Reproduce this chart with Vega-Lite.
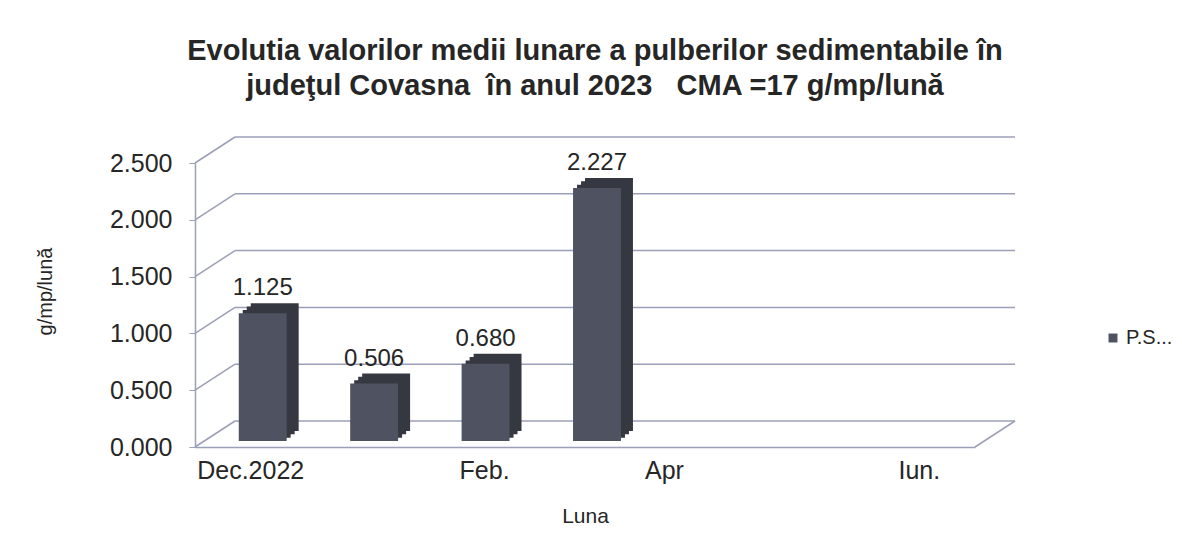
{
  "$schema": "https://vega.github.io/schema/vega-lite/v6.json",
  "width": 780,
  "height": 284,
  "autosize": {"type": "none"},
  "padding": {"left": 195, "top": 163, "right": 207, "bottom": 109},
  "background": "white",
  "config": {
    "font": "Liberation Sans",
    "view": {"stroke": null},
    "axis": {"labelColor": "#262626", "titleColor": "#262626", "labelFont": "Liberation Sans", "titleFont": "Liberation Sans"}
  },
  "title": {
    "text": ["Evolutia valorilor medii lunare a pulberilor sedimentabile în", "judeţul Covasna \u00a0în anul 2023 \u00a0 CMA =17 g/mp/lună"],
    "fontSize": 29,
    "lineHeight": 35,
    "fontWeight": "bold",
    "color": "#262626",
    "anchor": "middle",
    "dx": 10,
    "offset": 35
  },
  "datasets": {
    "ticks": [{"v": 0}, {"v": 0.5}, {"v": 1}, {"v": 1.5}, {"v": 2}, {"v": 2.5}],
    "months": [
      {"luna": "Dec.2022", "val": 1.125, "serie": "P.S..."},
      {"luna": "Ian.", "val": 0.506, "serie": "P.S..."},
      {"luna": "Feb.", "val": 0.680, "serie": "P.S..."},
      {"luna": "Mar.", "val": 2.227, "serie": "P.S..."}
    ]
  },
  "layer": [
    {
      "data": {"name": "ticks"},
      "mark": {"type": "rule", "color": "#9c9fb8", "strokeWidth": 1.5, "yOffset": -26, "y2Offset": -26},
      "encoding": {
        "x": {"value": 40},
        "x2": {"value": 820},
        "y": {"field": "v", "type": "quantitative", "scale": {"domain": [0, 2.5], "nice": false},
              "axis": {
                "values": [0, 0.5, 1, 1.5, 2, 2.5],
                "format": ".3f",
                "labelFontSize": 25,
                "labelPadding": 17,
                "tickSize": 6,
                "tickColor": "#9c9fb8",
                "domainColor": "#9c9fb8",
                "domainWidth": 1.5,
                "grid": false,
                "title": "g/mp/lună",
                "titleFontSize": 20,
                "titleFontWeight": "normal",
                "titlePadding": 54,
                "titleY": 128
              }},
        "y2": {"field": "v"}
      }
    },
    {
      "data": {"name": "ticks"},
      "mark": {"type": "rule", "color": "#9c9fb8", "strokeWidth": 1.5, "y2Offset": -26},
      "encoding": {
        "x": {"value": 0},
        "x2": {"value": 40},
        "y": {"field": "v", "type": "quantitative"},
        "y2": {"field": "v"}
      }
    },
    {
      "data": {"name": "ticks"},
      "transform": [{"filter": "datum.v == 0"}],
      "mark": {"type": "rule", "color": "#9c9fb8", "strokeWidth": 1.5, "y2Offset": -26},
      "encoding": {
        "x": {"value": 780},
        "x2": {"value": 820},
        "y": {"field": "v", "type": "quantitative"},
        "y2": {"field": "v"}
      }
    },
    {
      "data": {"name": "months"},
      "mark": {"type": "bar", "color": "#363841", "xOffset": 24, "yOffset": -16, "y2Offset": -16},
      "encoding": {
        "x": {"field": "luna", "type": "nominal", "sort": null,
              "scale": {"domain": ["Dec.2022", "Ian.", "Feb.", "Mar.", "Apr", "Mai", "Iun."], "paddingInner": 0.57, "paddingOuter": 0.285},
              "axis": {
                "values": ["Dec.2022", "Feb.", "Apr", "Iun."],
                "labelAngle": 0,
                "labelFontSize": 25,
                "labelPadding": 11,
                "labelOffset": {"condition": [{"test": "datum.value == 'Apr'", "value": -32}, {"test": "datum.value == 'Feb.'", "value": 11}], "value": 0},
                "ticks": false,
                "domainColor": "#9c9fb8",
                "domainWidth": 1.5,
                "grid": false,
                "title": "Luna",
                "titleFontSize": 21,
                "titleFontWeight": "normal",
                "titlePadding": 22
              }},
        "y": {"field": "val", "type": "quantitative"}
      }
    },
    {
      "data": {"name": "months"},
      "mark": {"type": "bar", "color": "#363841", "xOffset": 20, "yOffset": -12.7, "y2Offset": -12.7},
      "encoding": {
        "x": {"field": "luna", "type": "nominal", "sort": null},
        "y": {"field": "val", "type": "quantitative"}
      }
    },
    {
      "data": {"name": "months"},
      "mark": {"type": "bar", "color": "#363841", "xOffset": 16, "yOffset": -9.3, "y2Offset": -9.3},
      "encoding": {
        "x": {"field": "luna", "type": "nominal", "sort": null},
        "y": {"field": "val", "type": "quantitative"}
      }
    },
    {
      "data": {"name": "months"},
      "mark": {"type": "bar", "xOffset": 12, "yOffset": -6, "y2Offset": -6},
      "encoding": {
        "x": {"field": "luna", "type": "nominal", "sort": null},
        "y": {"field": "val", "type": "quantitative"},
        "color": {"field": "serie", "type": "nominal",
                  "scale": {"range": ["#4f5260"]},
                  "legend": {"orient": "none", "legendX": 908, "legendY": 165, "title": null, "symbolType": "square", "symbolSize": 80, "labelFontSize": 20, "labelOffset": 3, "labelColor": "#262626", "labelFont": "Liberation Sans", "symbolStrokeWidth": 0}}
      }
    },
    {
      "data": {"name": "months"},
      "mark": {"type": "text", "fontSize": 24, "color": "#262626", "baseline": "middle", "xOffset": 12, "yOffset": -31},
      "encoding": {
        "x": {"field": "luna", "type": "nominal", "sort": null},
        "y": {"field": "val", "type": "quantitative"},
        "text": {"field": "val", "type": "quantitative", "format": ".3f"}
      }
    }
  ]
}
